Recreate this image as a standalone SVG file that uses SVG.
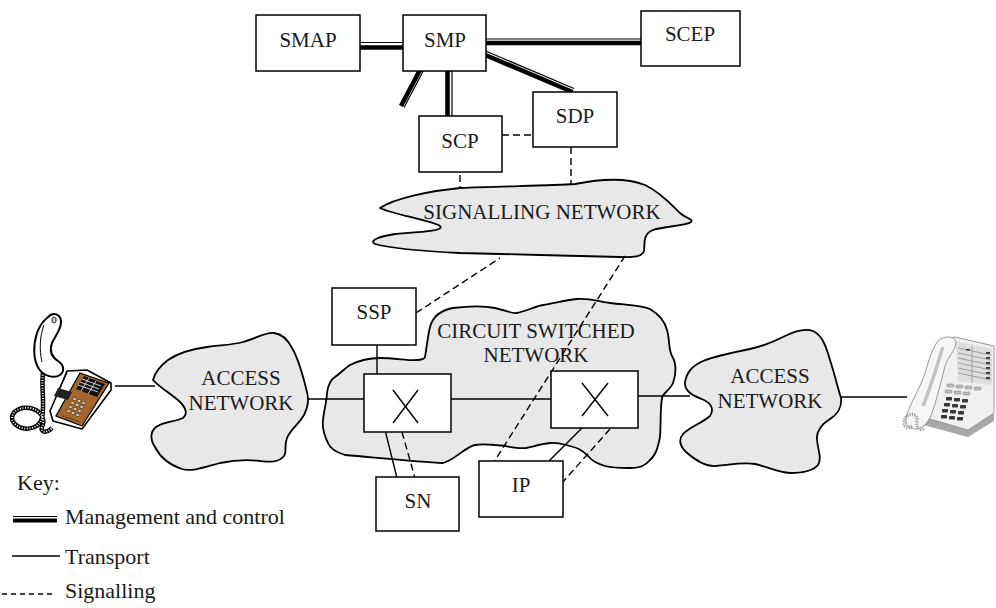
<svg xmlns="http://www.w3.org/2000/svg" width="996" height="608" viewBox="0 0 996 608">
  <style>
    .box { fill: #ffffff; stroke: #000; stroke-width: 1.5; }
    .cloud { fill: #e8e8e8; stroke: #000; stroke-width: 1.8; stroke-linejoin: round; }
    .lbl { font-size: 21px; fill: #1a1a1a; text-anchor: middle; }
    .key { font-size: 22px; fill: #1a1a1a; }
    .tr { stroke: #000; stroke-width: 1.4; fill: none; }
    .sig { stroke: #000; stroke-width: 1.4; fill: none; stroke-dasharray: 7 4; }
    .mthick { stroke: #000; stroke-width: 4.6; fill: none; }
    .mthin { stroke: #000; stroke-width: 1.2; fill: none; }
  </style>

  <rect width="996" height="608" fill="#ffffff"/>

  <g font-family="'Liberation Serif', 'Times New Roman', Times, serif">
  <!-- networks (clouds) -->
  <g id="signalling-network">
    <path class="cloud" d="M380,208 C395,198 430,191 460,188 C500,186 550,186 575,184 C600,179 625,177 645,185 C660,192 672,205 680,213 C685,218 694,219 691,222 C686,226 665,226 653,230 C642,234 645,246 644,251 C642,258 630,257 620,257 C580,256 500,254 460,253 C420,251 390,248 375,244 C368,240 382,236 395,234 C420,232 445,231 440,226 C430,220 395,215 380,208 Z"/>
    <text class="lbl" x="542" y="219">SIGNALLING NETWORK</text>
  </g>

  <g id="circuit-switched-network">
    <path class="cloud" d="M425,357 C427,345 428,335 430,327 C433,316 442,310 453,308 C470,306 485,306 495,308 C505,310 512,314 517,313 C528,311 535,306 543,305 C555,303 565,300 577,299 C590,298 600,302 610,303 C625,305 640,305 650,309 C660,315 665,322 667,330 C670,340 668,348 672,356 C677,364 676,375 673,383 C670,390 663,393 662,398 C660,410 661,425 660,437 C658,447 656,455 650,460 C645,466 640,468 630,468 C620,468 612,468 605,466 C598,464 593,462 588,456 C582,450 578,448 570,446 C562,444 558,442 550,443 C540,444 532,447 526,448 C515,449 505,445 495,445 C485,444 480,444 475,445 C465,447 455,460 443,463 C420,462 380,458 345,455 C335,452 330,448 328,443 C324,435 322,428 323,420 C324,410 327,400 327,393 C328,385 330,380 335,377 C342,372 345,368 350,365 C360,360 370,358 380,358 C395,358 410,361 417,360 C422,360 425,358 425,357 Z"/>
    <text class="lbl" x="536" y="338">CIRCUIT SWITCHED</text>
    <text class="lbl" x="536" y="362">NETWORK</text>
  </g>

  <g id="access-network-left">
    <path class="cloud" d="M153,380 C155,372 160,366 168,360 C178,353 192,349 207,347 C222,345 232,345 243,342 C255,339 265,332 274,333 C282,334 288,340 292,348 C298,358 302,372 306,388 C309,398 309,405 304,415 C298,425 290,430 287,438 C284,446 287,452 284,456 C278,463 270,462 260,461 C245,459 235,460 220,463 C205,467 192,472 182,469 C170,465 160,457 155,447 C150,440 150,432 156,427 C164,421 175,422 183,418 C188,414 186,408 180,402 C172,394 160,388 153,380 Z"/>
    <text class="lbl" x="241" y="385">ACCESS</text>
    <text class="lbl" x="241" y="410">NETWORK</text>
  </g>

  <g id="access-network-right">
    <path class="cloud" d="M685,382 C687,372 692,366 703,361 C715,356 730,353 750,349 C765,346 775,341 785,336 C795,331 805,328 813,331 C822,335 826,346 830,360 C834,372 837,385 841,398 C842,406 838,414 830,419 C822,424 816,430 817,440 C818,450 822,458 818,465 C812,472 800,473 790,473 C778,472 768,467 755,464 C742,462 730,465 716,466 C705,467 695,460 686,452 C680,446 678,440 683,434 C690,427 702,423 710,416 C714,410 712,404 704,400 C694,396 684,392 685,382 Z"/>
    <text class="lbl" x="770" y="383">ACCESS</text>
    <text class="lbl" x="770" y="408">NETWORK</text>
  </g>

  <!-- connectors -->
  <g id="connectors">
    <!-- management and control links (double line: thick + thin) -->
    <line class="mthin" x1="360" y1="42.5" x2="403" y2="42.5"/>
    <line class="mthick" x1="360" y1="47.5" x2="403" y2="47.5"/>
    <line class="mthin" x1="486" y1="39" x2="641" y2="39"/>
    <line class="mthick" x1="486" y1="43" x2="641" y2="43"/>
    <line class="mthick" x1="447.5" y1="71" x2="447.5" y2="116"/>
    <line class="mthin" x1="452" y1="71" x2="452" y2="116"/>
    <line class="mthick" x1="483" y1="54" x2="572.5" y2="92"/>
    <line class="mthin" x1="484.5" y1="50.5" x2="574" y2="88.5"/>
    <line class="mthick" x1="421" y1="68" x2="401" y2="106"/>
    <line class="mthin" x1="424" y1="69.5" x2="404" y2="107.5"/>

    <!-- signalling links -->
    <line class="sig" x1="502" y1="135" x2="533" y2="135"/>
    <line class="sig" x1="460" y1="164" x2="460" y2="187"/>
    <line class="sig" x1="571" y1="147" x2="571" y2="185"/>
    <line class="sig" x1="416" y1="313" x2="500" y2="258"/>
    <line class="sig" x1="625" y1="256" x2="492" y2="465"/>
    <line class="sig" x1="402" y1="432" x2="415" y2="478"/>
    <line class="sig" x1="610" y1="429" x2="562" y2="483"/>

    <!-- transport links -->
    <line class="tr" x1="115" y1="386" x2="155" y2="386"/>
    <line class="tr" x1="308" y1="399" x2="364" y2="399"/>
    <line class="tr" x1="451" y1="399" x2="551" y2="399"/>
    <line class="tr" x1="638" y1="396" x2="690" y2="396"/>
    <line class="tr" x1="840" y1="397" x2="907" y2="397"/>
    <line class="tr" x1="377" y1="345" x2="377" y2="374"/>
    <line class="tr" x1="385" y1="430" x2="397" y2="478"/>
    <line class="tr" x1="582" y1="428" x2="548" y2="462"/>
  </g>

  <!-- service nodes -->
  <g id="smap">
    <rect class="box" x="256" y="15" width="104" height="56"/>
    <text class="lbl" x="308" y="47">SMAP</text>
  </g>
  <g id="smp">
    <rect class="box" x="403" y="15" width="83" height="56"/>
    <text class="lbl" x="445" y="47">SMP</text>
  </g>
  <g id="scep">
    <rect class="box" x="641" y="11" width="99" height="55"/>
    <text class="lbl" x="690" y="41">SCEP</text>
  </g>
  <g id="sdp">
    <rect class="box" x="533" y="92" width="84" height="55"/>
    <text class="lbl" x="575" y="123">SDP</text>
  </g>
  <g id="scp">
    <rect class="box" x="419" y="116" width="83" height="56"/>
    <text class="lbl" x="460" y="148">SCP</text>
  </g>
  <g id="ssp">
    <rect class="box" x="332" y="288" width="84" height="57"/>
    <text class="lbl" x="374" y="319">SSP</text>
  </g>
  <g id="switch-1">
    <rect class="box" x="364" y="374" width="87" height="58"/>
    <line class="tr" x1="393" y1="390" x2="418" y2="423"/>
    <line class="tr" x1="418" y1="390" x2="393" y2="423"/>
  </g>
  <g id="switch-2">
    <rect class="box" x="551" y="371" width="87" height="57"/>
    <line class="tr" x1="582" y1="383" x2="608" y2="416"/>
    <line class="tr" x1="608" y1="383" x2="582" y2="416"/>
  </g>
  <g id="sn">
    <rect class="box" x="376" y="477" width="83" height="54"/>
    <text class="lbl" x="418" y="508">SN</text>
  </g>
  <g id="ip">
    <rect class="box" x="479" y="461" width="84" height="56"/>
    <text class="lbl" x="521" y="492">IP</text>
  </g>

  <!-- left telephone -->
  <g id="phone-left">
    <!-- coiled cord -->
    <path d="M43,372 C41,390 45,404 42,418 C39,430 22,432 14,423 C8,416 16,406 30,408 C40,410 46,418 42,427 C40,432 46,434 52,428" fill="none" stroke="#000" stroke-width="4.5"/>
    <path d="M43,372 C41,390 45,404 42,418 C39,430 22,432 14,423 C8,416 16,406 30,408 C40,410 46,418 42,427 C40,432 46,434 52,428" fill="none" stroke="#fff" stroke-width="2" stroke-dasharray="1 1.6"/>
    <!-- base -->
    <polygon points="67,371 87,370 111,383 111,390 82,429 53,421 50,411 60,388" fill="#fff" stroke="#000" stroke-width="1.6" stroke-linejoin="round"/>
    <polygon points="80,373 109,383 82,426 56,416" fill="#a2672c" stroke="#000" stroke-width="1.2"/>
    <!-- upper button columns -->
    <polygon points="84,376 105,384 97,397 76,389" fill="#111"/>
    <g stroke="#fff" stroke-width="0.8">
      <line x1="82" y1="379" x2="101" y2="386"/>
      <line x1="80" y1="382" x2="99" y2="389"/>
      <line x1="78" y1="385" x2="98" y2="392"/>
      <line x1="89" y1="378" x2="81" y2="391"/>
      <line x1="96" y1="381" x2="88" y2="394"/>
    </g>
    <!-- keypad -->
    <g fill="#fff" stroke="#000" stroke-width="0.4">
      <rect x="73" y="398" width="3.2" height="2" rx="0.8"/>
      <rect x="77.5" y="400" width="3.2" height="2" rx="0.8"/>
      <rect x="82" y="402" width="3.2" height="2" rx="0.8"/>
      <rect x="71" y="402" width="3.2" height="2" rx="0.8"/>
      <rect x="75.5" y="404" width="3.2" height="2" rx="0.8"/>
      <rect x="80" y="406" width="3.2" height="2" rx="0.8"/>
      <rect x="69" y="406" width="3.2" height="2" rx="0.8"/>
      <rect x="73.5" y="408" width="3.2" height="2" rx="0.8"/>
      <rect x="78" y="410" width="3.2" height="2" rx="0.8"/>
      <rect x="67" y="410" width="3.2" height="2" rx="0.8"/>
      <rect x="71.5" y="412" width="3.2" height="2" rx="0.8"/>
      <rect x="76" y="414" width="3.2" height="2" rx="0.8"/>
    </g>
    <line x1="63" y1="416" x2="80" y2="422" stroke="#000" stroke-width="0.8" stroke-dasharray="1 1"/>
    <!-- display -->
    <polygon points="58,388 72,392 68,400 54,396" fill="#222"/>
    <line x1="67" y1="373" x2="59" y2="389" stroke="#000" stroke-width="1"/>
    <!-- handset -->
    <path d="M47,318 C53,311 61,314 61,322 C61,330 55,336 52,343 C49,351 52,357 58,361 C64,365 65,371 60,375 C54,379 44,376 39,369 C33,360 33,345 37,333 C40,325 43,321 47,318 Z" fill="#fff" stroke="#000" stroke-width="2"/>
    <path d="M44,325 C40,335 39,350 42,362" fill="none" stroke="#000" stroke-width="1"/>
    <ellipse cx="54" cy="320" rx="2.2" ry="3" fill="#ccc" stroke="#000" stroke-width="0.8"/>
  </g>

  <!-- right telephone -->
  <g id="phone-right">
    <!-- bottom plinth -->
    <polygon points="916,415 968,430 994,413 994,421 968,437 916,423" fill="#a8a8a8"/>
    <!-- body -->
    <polygon points="936,344 955,337 994,346 994,413 968,430 916,415" fill="#f0f0f0" stroke="#8c8c8c" stroke-width="0.9"/>
    <!-- top panel -->
    <polygon points="956,341 992,349 992,385 958,381" fill="#dedede"/>
    <g stroke="#8f8f8f" stroke-width="0.8">
      <line x1="958" y1="348" x2="991" y2="355"/>
      <line x1="958" y1="353" x2="991" y2="360"/>
      <line x1="958" y1="358" x2="991" y2="365"/>
      <line x1="958" y1="363" x2="991" y2="370"/>
      <line x1="958" y1="368" x2="991" y2="375"/>
      <line x1="958" y1="373" x2="991" y2="380"/>
      <line x1="972" y1="346" x2="972" y2="383"/>
    </g>
    <g fill="#333">
      <rect x="986" y="352" width="4" height="1.8"/>
      <rect x="986" y="357" width="4" height="1.8"/>
      <rect x="986" y="362" width="4" height="1.8"/>
      <rect x="986" y="367" width="4" height="1.8"/>
      <rect x="986" y="372" width="4" height="1.8"/>
      <rect x="986" y="377" width="4" height="1.8"/>
      <rect x="966" y="349" width="4" height="1.4"/>
    </g>
    <!-- function keys -->
    <g fill="#bdbdbd" stroke="#7e7e7e" stroke-width="0.5">
      <rect x="947" y="384" width="7" height="3" rx="1"/>
      <rect x="956" y="385" width="7" height="3" rx="1"/>
      <rect x="965" y="386" width="7" height="3" rx="1"/>
      <rect x="974" y="387" width="7" height="3" rx="1"/>
      <rect x="945" y="390" width="7" height="3" rx="1"/>
      <rect x="954" y="391" width="7" height="3" rx="1"/>
      <rect x="963" y="392" width="7" height="3" rx="1"/>
    </g>
    <!-- keypad -->
    <g fill="#383838">
      <rect x="946" y="397" width="6" height="3.5" rx="0.8"/>
      <rect x="954" y="398" width="6" height="3.5" rx="0.8"/>
      <rect x="962" y="399" width="6" height="3.5" rx="0.8"/>
      <rect x="944" y="403" width="6" height="3.5" rx="0.8"/>
      <rect x="952" y="404" width="6" height="3.5" rx="0.8"/>
      <rect x="960" y="405" width="6" height="3.5" rx="0.8"/>
      <rect x="942" y="409" width="6" height="3.5" rx="0.8"/>
      <rect x="950" y="410" width="6" height="3.5" rx="0.8"/>
      <rect x="958" y="411" width="6" height="3.5" rx="0.8"/>
      <rect x="941" y="415" width="6" height="3.5" rx="0.8"/>
      <rect x="949" y="416" width="6" height="3.5" rx="0.8"/>
      <rect x="957" y="417" width="6" height="3.5" rx="0.8"/>
    </g>
    <!-- handset -->
    <path d="M938,341 C944,335 955,336 956,342 C956,350 948,356 945,366 C941,382 937,398 933,410 C930,420 924,429 915,429 C907,429 904,422 907,414 C911,402 919,390 924,376 C928,364 931,350 938,341 Z" fill="#f6f6f6" stroke="#8c8c8c" stroke-width="0.9"/>
    <path d="M943,347 C938,362 932,384 923,406" fill="none" stroke="#c4c4c4" stroke-width="3.5"/>
    <!-- coiled cord -->
    <path d="M912,426 C904,431 902,423 906,417 C910,412 918,414 917,421 C916,428 920,432 924,428" fill="none" stroke="#9a9a9a" stroke-width="3.2" stroke-dasharray="1.2 1.2"/>
  </g>

  <!-- key -->
  <g id="legend">
    <text class="key" x="17" y="490">Key:</text>
    <line class="mthin" x1="13" y1="516.5" x2="57" y2="516.5"/>
    <line x1="13" y1="520.5" x2="57" y2="520.5" stroke="#000" stroke-width="4"/>
    <text class="key" x="65" y="524">Management and control</text>
    <line class="tr" x1="12" y1="556" x2="60" y2="556"/>
    <text class="key" x="65" y="564">Transport</text>
    <line x1="2" y1="594" x2="56" y2="594" stroke="#000" stroke-width="1.4" stroke-dasharray="5 4"/>
    <text class="key" x="65" y="598">Signalling</text>
  </g>
  </g>
</svg>
